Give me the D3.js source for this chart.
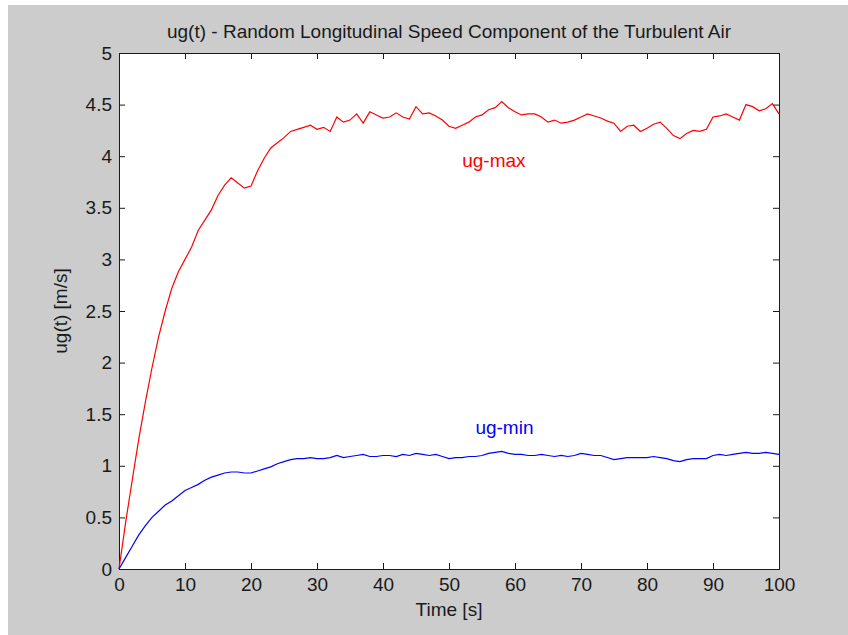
<!DOCTYPE html>
<html>
<head>
<meta charset="utf-8">
<script src="https://cdn.jsdelivr.net/npm/d3@7"></script>
<style>
  body { margin: 0; background: #ffffff; }
  text { font-family: "Liberation Sans", Arial, sans-serif; fill: #1a1a1a; }
</style>
</head>
<body>
<svg id="chart" width="848" height="635"></svg>
<script>
// time axis, one reading per second
const time = d3.range(0, 101);

// ug-max readings (m/s)
const ugMax = [
  0, 0.45, 0.86, 1.26, 1.62, 1.95, 2.25, 2.5, 2.72, 2.88,
  3.0, 3.12, 3.28, 3.38, 3.48, 3.62, 3.72, 3.79, 3.74, 3.69,
  3.71, 3.86, 3.98, 4.08, 4.13, 4.18, 4.24, 4.26, 4.28, 4.3,
  4.26, 4.28, 4.24, 4.38, 4.33, 4.35, 4.41, 4.32, 4.43, 4.4,
  4.37, 4.38, 4.42, 4.38, 4.36, 4.48, 4.41, 4.42, 4.39, 4.35,
  4.29, 4.27, 4.3, 4.33, 4.38, 4.4, 4.45, 4.47, 4.53, 4.47,
  4.43, 4.4, 4.41, 4.41, 4.38, 4.33, 4.35, 4.32, 4.33, 4.35,
  4.38, 4.41, 4.39, 4.37, 4.34, 4.32, 4.24, 4.29, 4.3, 4.24,
  4.27, 4.31, 4.33, 4.27, 4.2, 4.17, 4.22, 4.25, 4.24, 4.26,
  4.38, 4.39, 4.41, 4.38, 4.35, 4.5, 4.48, 4.44, 4.46, 4.51,
  4.41
];

// ug-min readings (m/s)
const ugMin = [
  0, 0.11, 0.22, 0.33, 0.42, 0.5, 0.56, 0.62, 0.66, 0.71,
  0.76, 0.79, 0.82, 0.86, 0.89, 0.91, 0.93, 0.94, 0.94, 0.93,
  0.93, 0.95, 0.97, 0.99, 1.02, 1.04, 1.06, 1.07, 1.07, 1.08,
  1.07, 1.07, 1.08, 1.1, 1.08, 1.09, 1.1, 1.11, 1.09, 1.09,
  1.1, 1.1, 1.09, 1.11, 1.1, 1.12, 1.11, 1.1, 1.11, 1.09,
  1.07, 1.08, 1.08, 1.09, 1.09, 1.1, 1.12, 1.13, 1.14, 1.12,
  1.11, 1.11, 1.1, 1.1, 1.11, 1.1, 1.09, 1.1, 1.09, 1.1,
  1.12, 1.11, 1.1, 1.1, 1.08, 1.06, 1.07, 1.08, 1.08, 1.08,
  1.08, 1.09, 1.08, 1.07, 1.05, 1.04, 1.06, 1.07, 1.07, 1.07,
  1.1, 1.11, 1.1, 1.11, 1.12, 1.13, 1.12, 1.12, 1.13, 1.12,
  1.11
];

const xTicks = d3.range(0, 101, 10);
const yTicks = [0, 0.5, 1, 1.5, 2, 2.5, 3, 3.5, 4, 4.5, 5];

const margin = {top: 53, right: 69, bottom: 66, left: 119},
    width = 848 - margin.left - margin.right,
    height = 635 - margin.top - margin.bottom;

const root = d3.select("#chart");

// grey figure background
root.append("rect")
    .attr("x", 8).attr("y", 5)
    .attr("width", 840).attr("height", 630)
    .attr("fill", "#cccccc");

const svg = root.append("g")
    .attr("transform", `translate(${margin.left},${margin.top})`);

// white axes area
svg.append("rect")
    .attr("width", width)
    .attr("height", height)
    .attr("fill", "#ffffff");

const x = d3.scaleLinear().domain([0, 100]).range([0, width]);
const y = d3.scaleLinear().domain([0, 5]).range([height, 0]);

// axes with inward ticks, matlab style
svg.append("g")
    .attr("class", "axis")
    .attr("transform", `translate(0,${height})`)
    .call(d3.axisBottom(x).tickValues(xTicks).tickSize(-6).tickPadding(9));
svg.append("g")
    .attr("class", "axis")
    .call(d3.axisLeft(y).tickValues(yTicks).tickFormat(d3.format("")).tickSize(-6).tickPadding(7));
svg.append("g")
    .attr("class", "axis")
    .call(d3.axisTop(x).tickValues(xTicks).tickFormat("").tickSize(-6));
svg.append("g")
    .attr("class", "axis")
    .attr("transform", `translate(${width},0)`)
    .call(d3.axisRight(y).tickValues(yTicks).tickFormat("").tickSize(-6));

svg.selectAll(".axis .domain").remove();
svg.selectAll(".axis line").attr("stroke", "#1a1a1a");
svg.selectAll(".axis text")
    .attr("fill", "#1a1a1a")
    .style("font-size", "19px");

// box
svg.append("rect")
    .attr("x", 0.5).attr("y", 0.5)
    .attr("width", width).attr("height", height)
    .attr("fill", "none")
    .attr("stroke", "#1a1a1a");

const line = d3.line()
    .x((d, i) => x(time[i]))
    .y(d => y(d));

svg.append("path")
    .datum(ugMax)
    .attr("fill", "none")
    .attr("stroke", "#ff0000")
    .attr("stroke-width", 1.2)
    .attr("d", line);

svg.append("path")
    .datum(ugMin)
    .attr("fill", "none")
    .attr("stroke", "#0000ff")
    .attr("stroke-width", 1.2)
    .attr("d", line);

// curve labels
svg.append("text")
    .attr("x", x(52))
    .attr("y", y(3.96))
    .attr("dy", "0.35em")
    .style("font-size", "19px")
    .style("fill", "#ff0000")
    .text("ug-max");

svg.append("text")
    .attr("x", x(54))
    .attr("y", y(1.37))
    .attr("dy", "0.35em")
    .style("font-size", "19px")
    .style("fill", "#0000ff")
    .text("ug-min");

// title
svg.append("text")
    .attr("x", width / 2)
    .attr("y", -15)
    .style("text-anchor", "middle")
    .style("font-size", "19px")
    .text("ug(t) - Random Longitudinal Speed Component of the Turbulent Air");

// x-axis label
svg.append("text")
    .attr("x", width / 2)
    .attr("y", height + 47)
    .style("text-anchor", "middle")
    .style("font-size", "19px")
    .text("Time [s]");

// y-axis label
svg.append("text")
    .attr("x", -height / 2)
    .attr("y", -52)
    .attr("transform", "rotate(-90)")
    .style("text-anchor", "middle")
    .style("font-size", "19px")
    .text("ug(t) [m/s]");
</script>
</body>
</html>
